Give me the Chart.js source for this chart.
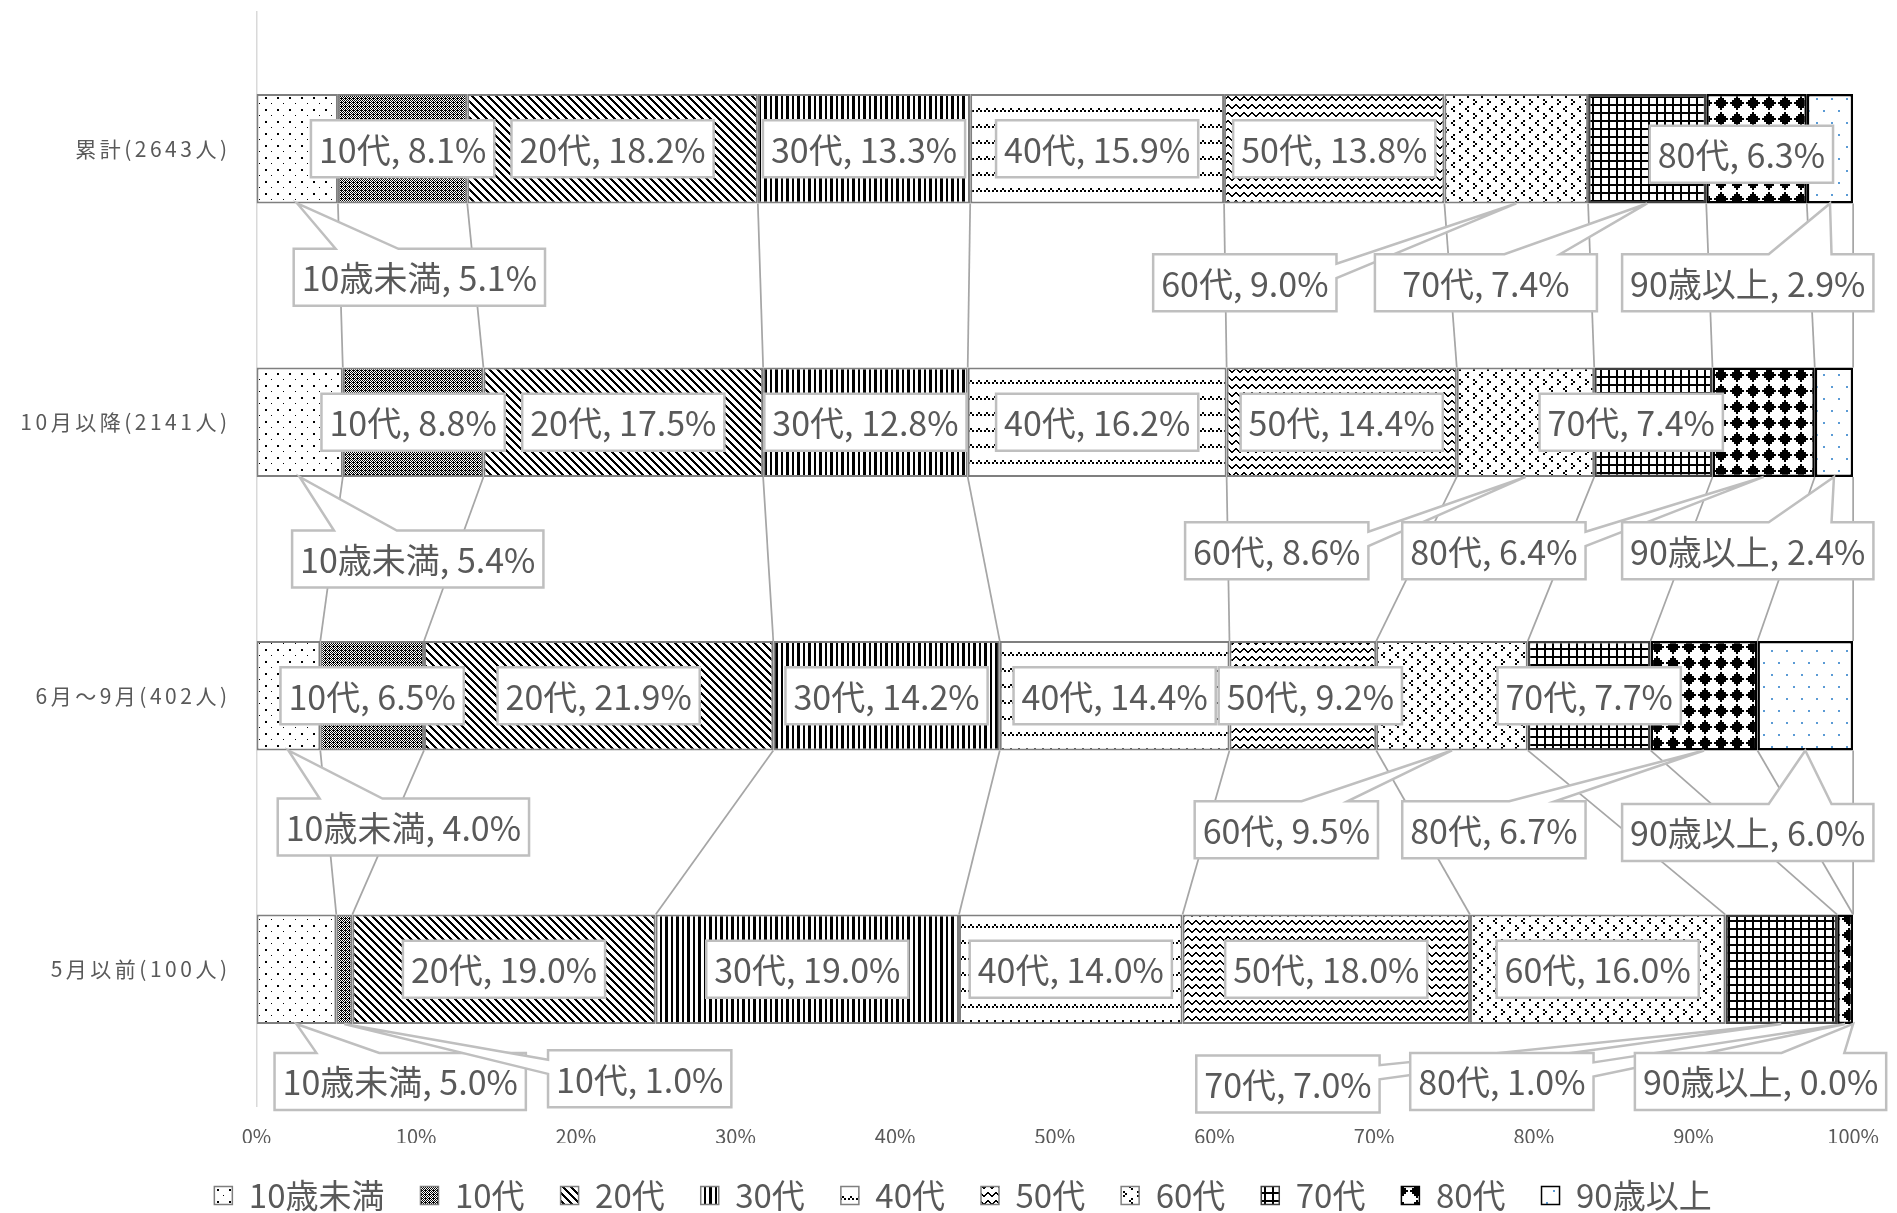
<!DOCTYPE html>
<html>
<head>
<meta charset="utf-8">
<script src="https://cdn.jsdelivr.net/npm/chart.js@4"></script>
<style>
  html, body { margin: 0; background: #fff; }
  #wrap { width: 1897px; height: 1213px; }
</style>
</head>
<body>
<div id="wrap"><canvas id="ageChart"></canvas></div>
<script>
// Categories (top to bottom) and age bands (stack order)
const groups = ['累計(2643人)', '10月以降(2141人)', '6月～9月(402人)', '5月以前(100人)'];
const ageBands = ['10歳未満', '10代', '20代', '30代', '40代', '50代', '60代', '70代', '80代', '90歳以上'];

// Share of each age band (%), one array per category
const shareTotal   = [5.1, 8.1, 18.2, 13.3, 15.9, 13.8, 9.0, 7.4, 6.3, 2.9];
const shareFromOct = [5.4, 8.8, 17.5, 12.8, 16.2, 14.4, 8.6, 7.4, 6.4, 2.4];
const shareJunSep  = [4.0, 6.5, 21.9, 14.2, 14.4, 9.2, 9.5, 7.7, 6.7, 6.0];
const shareToMay   = [5.0, 1.0, 19.0, 19.0, 14.0, 18.0, 16.0, 7.0, 1.0, 0.0];
const groupShares = [shareTotal, shareFromOct, shareJunSep, shareToMay];

const xTicks = ['0%', '10%', '20%', '30%', '40%', '50%', '60%', '70%', '80%', '90%', '100%'];

// Where a label was dragged to: [x in %, offset in category rows, box width];
// null = centred in its bar
const calloutSpots = [
  [[10.2, 0.47], null, null, null, null, null, [61.9, 0.49], [77.0, 0.49, 222], [93.0, 0.02], [93.4, 0.49]],
  [[10.1, 0.50], null, null, null, null, null, [63.9, 0.47], [86.1, 0.0], [77.5, 0.47], [93.4, 0.47]],
  [[9.2, 0.48], null, null, null, null, [66.0, 0.0], [64.5, 0.49], null, [77.5, 0.49], [93.4, 0.50]],
  [[9.0, 0.41], [24.0, 0.40], null, null, null, null, null, [64.6, 0.42], [78.0, 0.41], [94.2, 0.41]]
];

const FONT = 'Noto Sans CJK JP';
const TEXT = '#595959';
const ctx = document.getElementById('ageChart').getContext('2d');

// pattern fills, roughly like Excel's pattern swatches
function tile(w, h, paint) {
  const c = document.createElement('canvas');
  c.width = w;
  c.height = h;
  const g = c.getContext('2d');
  g.fillStyle = '#fff';
  g.fillRect(0, 0, w, h);
  paint(g);
  return ctx.createPattern(c, 'repeat');
}
function bits(rows, scale, color) {
  return tile(8 * scale, rows.length * scale, g => {
    g.fillStyle = color;
    rows.forEach((r, y) => {
      for (let x = 0; x < 8; x++) {
        if (r & (0x80 >> x)) g.fillRect(x * scale, y * scale, scale, scale);
      }
    });
  });
}
const fills = [
  tile(12, 12, g => { g.fillStyle = '#000'; g.fillRect(1, 1, 2, 2); g.fillRect(7, 7, 1, 1); }),
  bits([0xAA, 0x55, 0xEE, 0x55], 1, '#000'),
  bits([0xC1, 0xE0, 0x70, 0x38, 0x1C, 0x0E, 0x07, 0x83], 1, '#000'),
  tile(11, 1, g => { g.fillStyle = '#000'; g.fillRect(0, 0, 2, 1); g.fillRect(5, 0, 3, 1); }),
  bits([0, 0, 0, 0, 0, 0, 0x44, 0xAA], 2, '#000'),
  tile(8, 8, g => { g.fillStyle = '#000'; [3, 2, 1, 0, 0, 1, 2, 3].forEach((y, x) => g.fillRect(x, y, 1, 2)); }),
  tile(14, 14, g => {
    g.fillStyle = '#000';
    g.fillRect(3, 1, 2, 2); g.fillRect(5, 3, 2, 2); g.fillRect(3, 5, 2, 2);
    g.fillRect(11, 8, 2, 2); g.fillRect(9, 10, 2, 2); g.fillRect(11, 12, 2, 2);
  }),
  tile(8, 8, g => { g.fillStyle = '#000'; g.fillRect(0, 0, 8, 2); g.fillRect(0, 0, 2, 8); }),
  bits([0x08, 0x1C, 0x3E, 0x7F, 0x3E, 0x1C, 0x08, 0x00], 2, '#000'),
  tile(15, 24, g => { g.fillStyle = '#5b9bd5'; g.fillRect(1, 2, 2, 2); g.fillRect(8, 14, 2, 2); })
];
const edgeColors = ['#7f7f7f', '#7f7f7f', '#7f7f7f', '#7f7f7f', '#7f7f7f', '#7f7f7f', '#7f7f7f', '#404040', '#000', '#000'];

// rectangle with a wedge pointing at (tx, ty), same geometry as the wedgeRectCallout shape
function calloutPath(c, l, t, w, h, tx, ty) {
  const r = l + w, b = t + h;
  const dx = tx - (l + w / 2), dy = ty - (t + h / 2);
  c.beginPath();
  if (Math.abs(dx) <= w / 2 && Math.abs(dy) <= h / 2) {
    c.rect(l, t, w, h);
    return;
  }
  const vert = Math.abs(dy) - Math.abs(dx * h / w) > 0;
  const x1 = l + w * (dx > 0 ? 7 : 2) / 12, x2 = l + w * (dx > 0 ? 10 : 5) / 12;
  const y1 = t + h * (dy > 0 ? 7 : 2) / 12, y2 = t + h * (dy > 0 ? 10 : 5) / 12;
  c.moveTo(l, t);
  if (vert && dy < 0) { c.lineTo(x1, t); c.lineTo(tx, ty); c.lineTo(x2, t); }
  c.lineTo(r, t);
  if (!vert && dx > 0) { c.lineTo(r, y1); c.lineTo(tx, ty); c.lineTo(r, y2); }
  c.lineTo(r, b);
  if (vert && dy > 0) { c.lineTo(x2, b); c.lineTo(tx, ty); c.lineTo(x1, b); }
  c.lineTo(l, b);
  if (!vert && dx < 0) { c.lineTo(l, y2); c.lineTo(tx, ty); c.lineTo(l, y1); }
  c.closePath();
}

const seriesLinesAndLabels = {
  id: 'seriesLinesAndLabels',
  afterLayout(chart) {
    // category labels are letter-spaced in the original and run past the axis box
    const s = chart.scales.y;
    if (!s._spaced) {
      const orig = s.drawLabels;
      s._computeLabelArea = () => undefined;
      s.drawLabels = function (area) {
        this.ctx.save();
        this.ctx.letterSpacing = '3.5px';
        orig.call(this, area);
        this.ctx.restore();
      };
      s._spaced = true;
    }
  },
  afterDatasetsDraw(chart) {
    const c = chart.ctx, xs = chart.scales.x, ys = chart.scales.y;
    const metas = chart.data.datasets.map((d, i) => chart.getDatasetMeta(i));
    c.save();
    // series lines between the bars
    c.strokeStyle = '#a6a6a6';
    c.lineWidth = 1.75;
    metas.forEach(meta => {
      for (let j = 0; j < meta.data.length - 1; j++) {
        const a = meta.data[j], b = meta.data[j + 1];
        c.beginPath();
        c.moveTo(a.x, a.y + a.height / 2);
        c.lineTo(b.x, b.y - b.height / 2);
        c.stroke();
      }
    });
    // data labels
    c.font = '34px "' + FONT + '"';
    c.textAlign = 'center';
    c.textBaseline = 'middle';
    metas.forEach((meta, i) => meta.data.forEach((bar, j) => {
      const text = ageBands[i] + ', ' + groupShares[j][i].toFixed(1) + '%';
      const spot = calloutSpots[j][i];
      const w = (spot && spot[2]) || c.measureText(text).width + 16, h = 57;
      const cx = spot ? xs.getPixelForValue(spot[0]) : (bar.base + bar.x) / 2;
      const cy = spot ? ys.getPixelForValue(j + spot[1]) : bar.y;
      const outside = cy - h / 2 > bar.y + bar.height / 2;
      const tx = outside ? (bar.base + bar.x) / 2 : cx;
      const ty = outside ? bar.y + bar.height / 2 : cy;
      calloutPath(c, cx - w / 2, cy - h / 2, w, h, tx, ty);
      c.fillStyle = '#fff';
      c.fill();
      c.strokeStyle = '#bfbfbf';
      c.lineWidth = 2.5;
      c.stroke();
      c.fillStyle = TEXT;
      c.fillText(text, cx, cy + 1);
    }));
    c.restore();
  }
};

Chart.defaults.font.family = FONT;

const ageChart = new Chart(ctx, {
  type: 'bar',
  data: {
    labels: groups,
    datasets: ageBands.map((band, i) => ({
      label: band,
      data: groupShares.map(row => row[i] / row.reduce((a, b) => a + b, 0) * 100),
      backgroundColor: fills[i],
      borderColor: edgeColors[i],
      borderWidth: i >= 7 ? 2.5 : 2,
      borderSkipped: false,
      barPercentage: 0.4,
      categoryPercentage: 1
    }))
  },
  options: {
    indexAxis: 'y',
    responsive: true,
    maintainAspectRatio: false,
    animation: false,
    layout: { padding: { top: 12, right: 36, left: 65, bottom: -9 } },
    scales: {
      x: {
        stacked: true,
        min: 0,
        max: 100,
        grid: { display: false, drawTicks: false },
        border: { display: false },
        ticks: {
          stepSize: 10,
          color: TEXT,
          padding: 18,
          font: { size: 20 },
          callback: (v, i) => xTicks[i]
        },
        afterFit: s => { s.height = 37; }
      },
      y: {
        stacked: true,
        grid: { display: false, drawTicks: false },
        border: { color: '#d9d9d9', width: 1.5 },
        ticks: { color: TEXT, padding: 26, font: { size: 21 } },
        afterFit: s => { s.width = 191.5; s.paddingTop = 0; s.paddingBottom = 0; }
      }
    },
    plugins: {
      tooltip: { enabled: false },
      legend: {
        position: 'bottom',
        labels: {
          boxWidth: 18,
          boxHeight: 18,
          padding: 36,
          color: TEXT,
          font: { size: 33 },
          generateLabels: chart => Chart.defaults.plugins.legend.labels.generateLabels(chart)
            .map(l => Object.assign(l, { lineWidth: 1.5 }))
        }
      }
    }
  },
  plugins: [seriesLinesAndLabels]
});
</script>
</body>
</html>
